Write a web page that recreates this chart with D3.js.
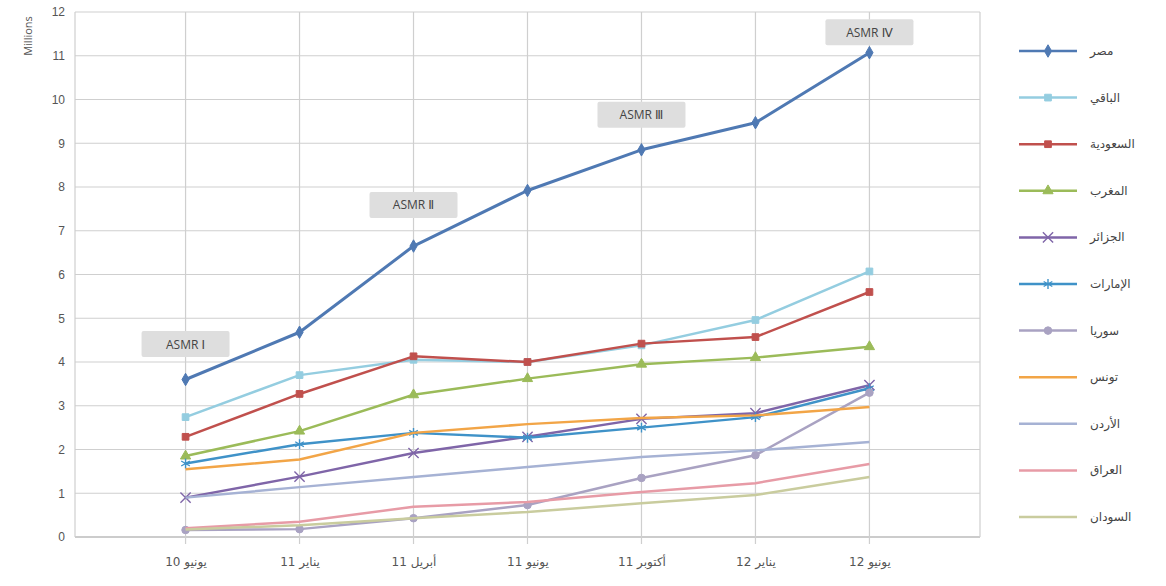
<!DOCTYPE html>
<html>
<head>
<meta charset="utf-8">
<script src="https://cdn.jsdelivr.net/npm/d3@7"></script>
<style>
  html, body { margin: 0; padding: 0; background: #fff; }
  svg { display: block; font-family: "Open Sans", "DejaVu Sans", sans-serif; }
</style>
</head>
<body>
<svg id="chart" width="1166" height="586"></svg>
<script>
// Periods on the x axis
const categories = ["يونيو 10", "يناير 11", "أبريل 11", "يونيو 11", "أكتوبر 11", "يناير 12", "يونيو 12"];

// Series names, in legend order
const seriesNames = ["مصر", "الباقي", "السعودية", "المغرب", "الجزائر", "الإمارات", "سوريا", "تونس", "الأردن", "العراق", "السودان"];

// Values in millions, one array per series
const egypt   = [3.6, 4.68, 6.65, 7.92, 8.85, 9.47, 11.07];
const rest    = [2.74, 3.7, 4.05, 4.0, 4.38, 4.96, 6.07];
const saudi   = [2.29, 3.27, 4.13, 4.0, 4.42, 4.57, 5.6];
const morocco = [1.85, 2.42, 3.25, 3.62, 3.95, 4.1, 4.35];
const algeria = [0.9, 1.38, 1.92, 2.29, 2.7, 2.83, 3.47];
const uae     = [1.68, 2.12, 2.38, 2.27, 2.5, 2.74, 3.4];
const syria   = [0.16, 0.18, 0.43, 0.73, 1.35, 1.87, 3.3];
const tunisia = [1.55, 1.77, 2.38, 2.58, 2.72, 2.78, 2.97];
const jordan  = [0.9, 1.14, 1.37, 1.6, 1.83, 1.98, 2.17];
const iraq    = [0.2, 0.35, 0.69, 0.8, 1.03, 1.23, 1.67];
const sudan   = [0.17, 0.27, 0.43, 0.57, 0.77, 0.96, 1.37];

// Y axis ticks
const yTicks = [0, 1, 2, 3, 4, 5, 6, 7, 8, 9, 10, 11, 12];

// Callouts: label, period and height (millions)
const calloutLabels = ["ASMR Ⅰ", "ASMR Ⅱ", "ASMR Ⅲ", "ASMR Ⅳ"];
const calloutCats   = ["يونيو 10", "أبريل 11", "أكتوبر 11", "يونيو 12"];
const calloutValues = [4.41, 7.59, 9.65, 11.54];

const seriesValues = [egypt, rest, saudi, morocco, algeria, uae, syria, tunisia, jordan, iraq, sudan];
const colors  = ["#4f79b3", "#94cde0", "#c0504d", "#9bbb59", "#7f65a8", "#3f92c8", "#a9a2c2", "#f2a547", "#a6b2d4", "#e79ba6", "#c9cc9e"];
const symbols = ["diamond", "square", "square", "triangle", "asterisk", "star", "circle", null, null, null, null];

const svg = d3.select("#chart");
const plot = { left: 75, right: 980, top: 12, bottom: 537 };

const x = d3.scalePoint().domain(categories).range([plot.left, plot.right]).padding(0.97);
const y = d3.scaleLinear().domain([0, 12]).range([plot.bottom, plot.top]);

// Horizontal grid
svg.append("g")
  .selectAll("line").data(yTicks).join("line")
  .attr("x1", plot.left).attr("x2", plot.right)
  .attr("y1", d => y(d)).attr("y2", d => y(d))
  .attr("stroke", d => d === 0 ? "#9a9a9a" : "#cfcfcf").attr("stroke-width", 1.2);

// Vertical grid at each period, plus plot edges
svg.append("g")
  .selectAll("line").data(categories).join("line")
  .attr("x1", d => x(d)).attr("x2", d => x(d))
  .attr("y1", plot.top).attr("y2", plot.bottom + 7)
  .attr("stroke", "#cfcfcf").attr("stroke-width", 1.2);
svg.append("g").selectAll("line").data([plot.left, plot.right]).join("line")
  .attr("x1", d => d).attr("x2", d => d)
  .attr("y1", plot.top).attr("y2", plot.bottom)
  .attr("stroke", "#cfcfcf").attr("stroke-width", 1.2);

// Y axis labels
const yAxis = d3.axisLeft(y).tickValues(yTicks).tickSize(0).tickPadding(10).tickFormat(d3.format("d"));
svg.append("g").attr("transform", `translate(${plot.left},0)`).call(yAxis)
  .call(g => g.select(".domain").remove())
  .selectAll("text").attr("font-size", 12).attr("fill", "#555");

// X axis labels
const xAxis = d3.axisBottom(x).tickSize(0).tickPadding(20);
svg.append("g").attr("transform", `translate(0,${plot.bottom})`).call(xAxis)
  .call(g => g.select(".domain").remove())
  .selectAll("text").attr("font-size", 12).attr("fill", "#555")
  .attr("direction", "rtl").attr("font-family", "DejaVu Sans, sans-serif");

// Y axis title
svg.append("text")
  .attr("transform", "translate(32,36) rotate(-90)")
  .attr("text-anchor", "middle").attr("font-size", 11).attr("fill", "#555")
  .text("Millions");

// Marker symbols
function markerPath(kind, size) {
  const map = {
    diamond: d3.symbolDiamond, square: d3.symbolSquare, triangle: d3.symbolTriangle,
    asterisk: d3.symbolTimes, star: d3.symbolAsterisk, circle: d3.symbolCircle
  };
  return d3.symbol().type(map[kind]).size(size)();
}

const line = d3.line().x((d, i) => x(categories[i])).y(d => y(d));

const seriesG = svg.append("g");
seriesValues.forEach((vals, si) => {
  const g = seriesG.append("g");
  g.append("path").datum(vals)
    .attr("d", line).attr("fill", "none")
    .attr("stroke", colors[si]).attr("stroke-width", si === 0 ? 3 : 2.5)
    .attr("stroke-linejoin", "round");
  if (symbols[si]) {
    const isOpen = symbols[si] === "asterisk" || symbols[si] === "star";
    g.selectAll("path.m").data(vals).join("path").attr("class", "m")
      .attr("transform", (d, i) => `translate(${x(categories[i])},${y(d)})`)
      .attr("d", markerPath(symbols[si], isOpen ? 70 : 45))
      .attr("fill", isOpen ? "none" : colors[si])
      .attr("stroke", colors[si]).attr("stroke-width", isOpen ? 1.4 : 1);
  }
});

// Callout boxes
const callouts = svg.append("g");
calloutLabels.forEach((lab, i) => {
  const cx = x(calloutCats[i]), cy = y(calloutValues[i]);
  callouts.append("rect")
    .attr("x", cx - 44).attr("y", cy - 13).attr("width", 88).attr("height", 26)
    .attr("rx", 2).attr("fill", "#dedede");
  callouts.append("text")
    .attr("x", cx).attr("y", cy + 4.5).attr("text-anchor", "middle")
    .attr("font-size", 12).attr("fill", "#444").text(lab);
});

// Legend
const legend = svg.append("g");
seriesNames.forEach((name, i) => {
  const ly = 51 + i * 46.6;
  legend.append("line")
    .attr("x1", 1019).attr("x2", 1077).attr("y1", ly).attr("y2", ly)
    .attr("stroke", colors[i]).attr("stroke-width", 2.5);
  if (symbols[i]) {
    const isOpen = symbols[i] === "asterisk" || symbols[i] === "star";
    legend.append("path")
      .attr("transform", `translate(1048,${ly})`)
      .attr("d", markerPath(symbols[i], isOpen ? 70 : 45))
      .attr("fill", isOpen ? "none" : colors[i])
      .attr("stroke", colors[i]).attr("stroke-width", isOpen ? 1.4 : 1);
  }
  legend.append("text")
    .attr("x", 1090).attr("y", ly + 4).attr("font-size", 12)
    .attr("font-family", "DejaVu Sans, sans-serif").attr("fill", "#444")
    .text(name);
});
</script>
</body>
</html>
